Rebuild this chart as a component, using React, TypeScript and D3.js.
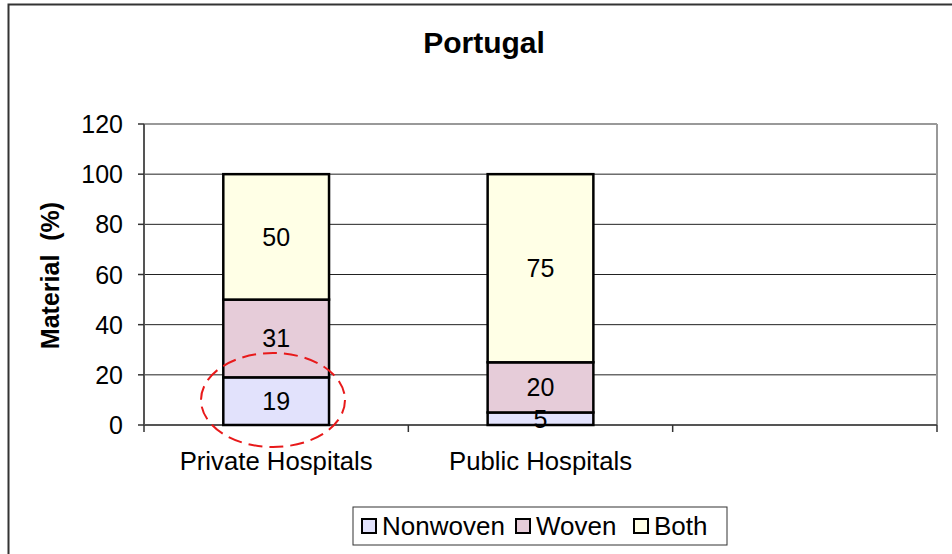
import React from "react";
import * as d3 from "d3";

const categories = ["Private Hospitals", "Public Hospitals", ""];
const seriesNames = ["Nonwoven", "Woven", "Both"];
const nonwoven = [19, 5, null];
const woven = [31, 20, null];
const both = [50, 75, null];
const yTicks = [0, 20, 40, 60, 80, 100, 120];
const colors = ["#E2E2FC", "#E6CCD9", "#FFFFE6"];
const title = "Portugal";
const yLabel = "Material\u00A0\u00A0(%)";

function T({ x, y, anchor = "start", size = 25, bold = false, rotate = 0, sx = 1, children }: any) {
  return (
    <g transform={`translate(${x},${y}) rotate(${rotate}) scale(${sx},1)`}>
      <text x={0} y={0} textAnchor={anchor} fontSize={size} fontWeight={bold ? "bold" : "normal"}>{children}</text>
    </g>
  );
}

export default function App() {
  const W = 952, H = 554;
  const left = 144, right = 937, top = 124, bottom = 425;
  const x = d3.scaleBand<string>().domain(categories.map((c, i) => String(i))).range([left, right]).paddingInner(0).paddingOuter(0);
  const y = d3.scaleLinear().domain([0, 120]).range([bottom, top]);
  const barW = x.bandwidth() * 0.4;
  const series = [nonwoven, woven, both];
  const font = "'Liberation Sans', Arial, sans-serif";

  const segs: any[] = [];
  categories.forEach((c, i) => {
    let acc = 0;
    series.forEach((s, k) => {
      const v = s[i];
      if (v == null) return;
      segs.push({ i, k, y0: acc, y1: acc + v, v });
      acc += v;
    });
  });

  const legendX = 353, legendY = 507, legendW = 374, legendH = 38;
  const legendOffsets = [9, 163, 281];

  return (
    <svg width={W} height={H} style={{ position: "absolute", left: 0, top: 0 }} fontFamily={font}>
      <rect x={0} y={0} width={W} height={H} fill="#fff" />
      <rect x={8.5} y={4.5} width={W + 10} height={H + 10} fill="none" stroke="#333" strokeWidth={2} />
      <T x={484} y={53} anchor="middle" size={30} bold>{title}</T>
      {yTicks.filter(t => t > 0 && t < 120).map(t => (
        <line key={t} x1={left} x2={right} y1={y(t)} y2={y(t)} stroke="#222" strokeWidth={1} />
      ))}
      <line x1={left} x2={right} y1={y(120)} y2={y(120)} stroke="#999" strokeWidth={2} />
      <line x1={right} x2={right} y1={y(120)} y2={bottom} stroke="#999" strokeWidth={2} />
      <line x1={left} x2={left} y1={top} y2={bottom} stroke="#555" strokeWidth={2} />
      <line x1={left} x2={right} y1={bottom} y2={bottom} stroke="#555" strokeWidth={2} />
      {yTicks.map(t => (
        <g key={t}>
          <line x1={left - 6} x2={left} y1={y(t)} y2={y(t)} stroke="#333" strokeWidth={1.5} />
          <T x={left - 21} y={y(t) + 9} anchor="end">{t}</T>
        </g>
      ))}
      {categories.map((c, i) => (
        <line key={"t" + i} x1={x(String(i))!} x2={x(String(i))!} y1={bottom} y2={bottom + 7} stroke="#333" strokeWidth={1.5} />
      ))}
      <line x1={right} x2={right} y1={bottom} y2={bottom + 7} stroke="#333" strokeWidth={1.5} />
      {categories.map((c, i) => (
        <T key={"c" + i} x={x(String(i))! + x.bandwidth() / 2} y={470} anchor="middle" sx={1.03}>{c}</T>
      ))}
      <T x={59} y={(top + bottom) / 2 + 1} anchor="middle" bold rotate={-90}>{yLabel}</T>
      {segs.map((s, j) => {
        const cx = x(String(s.i))! + x.bandwidth() / 2;
        return (
          <rect key={j} x={cx - barW / 2} y={y(s.y1)} width={barW} height={y(s.y0) - y(s.y1)} fill={colors[s.k]} stroke="#000" strokeWidth={2.5} />
        );
      })}
      {segs.map((s, j) => {
        const cx = x(String(s.i))! + x.bandwidth() / 2;
        const cy = (y(s.y0) + y(s.y1)) / 2;
        return <T key={"l" + j} x={cx} y={cy + 9} anchor="middle">{s.v}</T>;
      })}
      <ellipse cx={273} cy={400} rx={72} ry={47} fill="none" stroke="#E8191A" strokeWidth={2} strokeDasharray="14,7" />
      <rect x={legendX} y={legendY} width={legendW} height={legendH} fill="#fff" stroke="#333" strokeWidth={1} />
      {seriesNames.map((n, k) => (
        <g key={n}>
          <rect x={legendX + legendOffsets[k]} y={legendY + legendH / 2 - 7} width={14} height={14} fill={colors[k]} stroke="#000" strokeWidth={2} />
          <T x={legendX + legendOffsets[k] + 20} y={legendY + legendH / 2 + 9} size={26}>{n}</T>
        </g>
      ))}
    </svg>
  );
}
